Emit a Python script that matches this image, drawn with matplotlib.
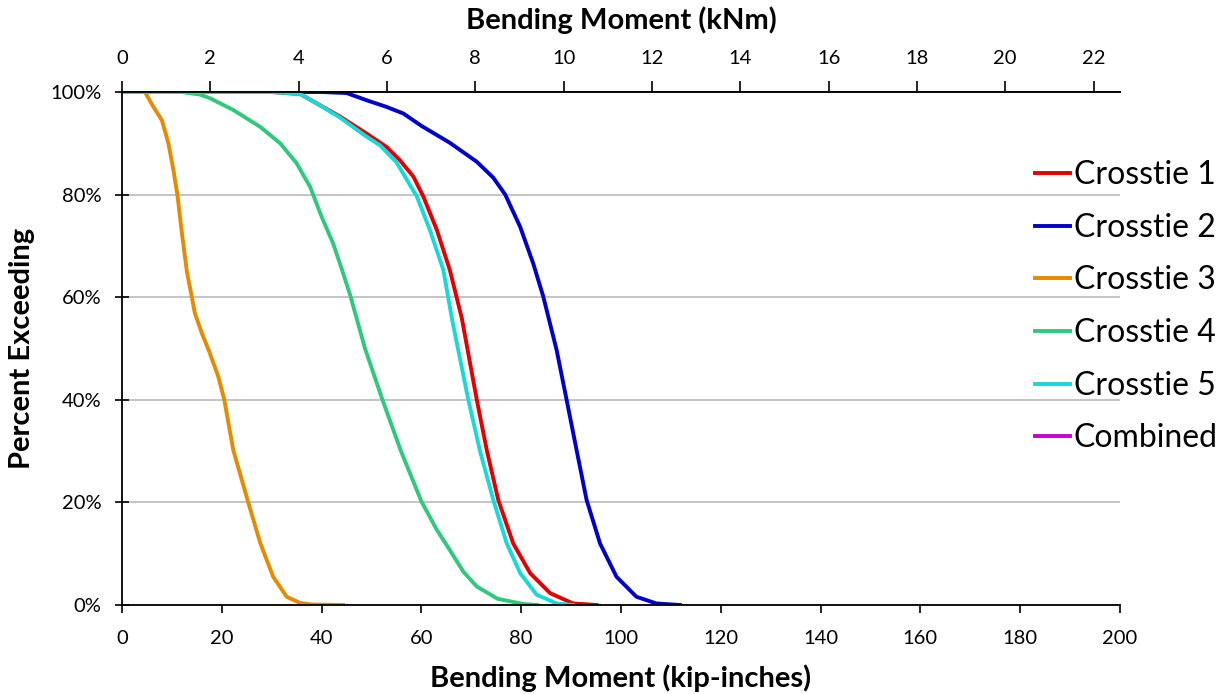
import matplotlib
matplotlib.use("Agg")
import matplotlib.pyplot as plt
from matplotlib.ticker import FuncFormatter

plt.rcParams['font.family'] = ['Lato', 'DejaVu Sans']

# kip-inches vs percent exceeding
x1 = [0, 30, 35.7, 39, 43.7, 49, 53, 55.7, 58.4, 60.4, 63.1, 65.7, 68.1, 71.1, 73.1, 75.4, 78.4, 81.8, 85.8, 90.4, 95.1]
y1 = [100, 100, 99.6, 97.8, 95.2, 91.9, 89.3, 86.7, 83.5, 79.6, 73.1, 65.3, 55.9, 40, 30.2, 20.5, 12, 6.2, 2.3, 0.3, 0]

x2 = [0, 40, 45, 49, 53, 56.4, 60, 65.7, 71.1, 74.4, 76.8, 79.8, 82.4, 84.4, 87.1, 89.1, 91.1, 93.1, 95.8, 99.1, 103.1, 107.1, 111.8]
y2 = [100, 100, 99.8, 98.4, 97.1, 95.8, 93.4, 90.1, 86.4, 83.3, 80.0, 73.7, 66.6, 60.2, 49.7, 40, 30.2, 20.5, 12, 5.5, 1.6, 0.3, 0]

x3 = [0, 4.6, 6.3, 8.0, 9.3, 10.3, 11.1, 12.0, 13.0, 14.0, 14.6, 16.0, 17.6, 19.3, 20.5, 22.3, 25.3, 27.7, 30.3, 33, 35.7, 38, 44.3]
y3 = [100, 100, 97.1, 94.5, 90, 84.8, 80, 72.5, 65, 60, 56.9, 53, 49.1, 44.5, 40, 30.2, 20, 12.1, 5.5, 1.6, 0.4, 0.1, 0]

x4 = [0, 12, 15.6, 17.6, 22.3, 27.7, 31.7, 35, 37.7, 40, 42.3, 44, 45.7, 48.7, 52.2, 55.9, 60, 63, 65.7, 68.4, 71.1, 75.3, 80.4, 83.2]
y4 = [100, 100, 99.5, 98.8, 96.5, 93.2, 90, 86.1, 81.5, 75.7, 70.5, 65.6, 60.5, 50, 40, 30, 20.2, 14.8, 10.7, 6.5, 3.6, 1.2, 0.2, 0]

x5 = [0, 30, 35.7, 39, 43.7, 49, 51.7, 55, 59.1, 61.7, 64.4, 66.1, 69.4, 71.7, 74.4, 77.1, 79.8, 83.1, 87.1, 90.4]
y5 = [100, 100, 99.6, 97.8, 95.0, 91.3, 89.6, 86.3, 79.6, 73.1, 65.3, 55.9, 40, 30.2, 20.5, 12, 6.2, 2, 0.3, 0]

# combined series is not visible in the picture, only in the legend
x_comb = []
y_comb = []

names = ['Crosstie 1', 'Crosstie 2', 'Crosstie 3', 'Crosstie 4', 'Crosstie 5', 'Combined']
colors = ['#E30000', '#0000CD', '#E68A00', '#2EC97A', '#17D9D9', '#CC00CC']

KIPIN_TO_KNM = 0.113

fig = plt.figure(figsize=(12.29, 6.94), dpi=100)
ax = fig.add_axes([122/1229, 1 - 605/694, (1120-122)/1229, (605-92)/694])

series = [(x1, y1), (x2, y2), (x3, y3), (x4, y4), (x5, y5), (x_comb, y_comb)]
for i, (xs, ys) in enumerate(series):
    ax.plot(xs, ys, color=colors[i], lw=2.8, label=names[i], solid_joinstyle='round')

ax.set_xlim(0, 200)
ax.set_ylim(0, 100)
ax.set_xticks(range(0, 201, 20))
ax.set_yticks(range(0, 101, 20))
ax.yaxis.set_major_formatter(FuncFormatter(lambda v, p: f"{int(v)}%"))
ax.yaxis.grid(True, color='#b4b4b4', lw=1.1)
ax.set_axisbelow(True)
ax.spines['right'].set_visible(False)
for s in ['left', 'bottom', 'top']:
    ax.spines[s].set_linewidth(1.3)
ax.tick_params(axis='y', direction='inout', length=10, width=1.2, labelsize=14.5, pad=10)
ax.tick_params(axis='x', direction='out', length=6, width=1.2, labelsize=14.5, pad=12)

ax.set_xlabel('Bending Moment (kip-inches)', fontsize=21, fontweight='bold', va='center')
ax.xaxis.set_label_coords(0.5, (605 - 678) / 513)
ax.set_ylabel('Percent Exceeding', fontsize=21, fontweight='bold', va='center')
ax.yaxis.set_label_coords((22 - 122) / 998, 0.5)

top = ax.secondary_xaxis('top', functions=(lambda v: v * KIPIN_TO_KNM, lambda v: v / KIPIN_TO_KNM))
top.set_xticks(range(0, 23, 2))
top.tick_params(direction='out', length=8, width=1.2, labelsize=14.5, pad=10)
top.spines['top'].set_linewidth(1.3)
top.set_xlabel('Bending Moment (kNm)', fontsize=21, fontweight='bold', labelpad=15)

fig.legend(loc='upper left', bbox_to_anchor=(1035/1229, 1 - 160/694), frameon=False,
           fontsize=23, handlelength=1.1, handletextpad=0.12, labelspacing=0.71,
           borderpad=0, borderaxespad=0)

fig.savefig('out.png', dpi=100)
